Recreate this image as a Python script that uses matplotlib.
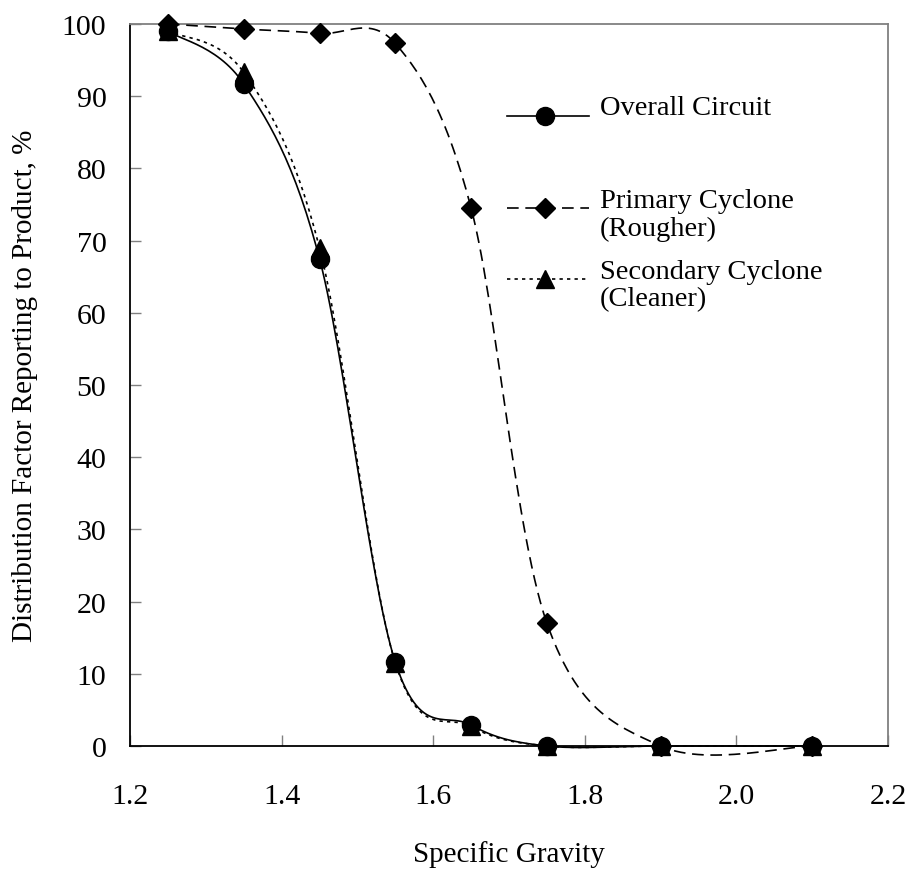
import matplotlib
matplotlib.use("Agg")
import matplotlib.pyplot as plt
import numpy as np

plt.rcParams['font.family'] = ['Liberation Serif', 'DejaVu Serif']

# specific gravity fractions
sg = [1.25, 1.35, 1.45, 1.55, 1.65, 1.75, 1.90, 2.10]
overall = [99.0, 91.7, 67.5, 11.6, 2.9, 0.0, 0.0, 0.0]
primary = [100.0, 99.3, 98.7, 97.3, 74.5, 17.0, 0.0, 0.0]
secondary = [99.0, 93.3, 69.0, 11.5, 2.7, 0.0, 0.0, 0.0]

x_ticks = [1.2, 1.4, 1.6, 1.8, 2.0, 2.2]
y_ticks = list(range(0, 101, 10))


def smooth(xs, ys, n=30):
    # cubic bezier through the points, spreadsheet style smoothing
    p = np.column_stack([xs, ys]).astype(float)
    out = [p[0]]
    t = np.linspace(0, 1, n)[1:, None]
    for i in range(len(p) - 1):
        p0 = p[i - 1] if i > 0 else p[i]
        p3 = p[i + 2] if i + 2 < len(p) else p[i + 1]
        c1 = p[i] + (p[i + 1] - p0) / 6.0
        c2 = p[i + 1] - (p3 - p[i]) / 6.0
        seg = ((1 - t) ** 3) * p[i] + 3 * ((1 - t) ** 2) * t * c1 \
            + 3 * (1 - t) * t ** 2 * c2 + t ** 3 * p[i + 1]
        out.extend(seg)
    out = np.array(out)
    return out[:, 0], out[:, 1]


fig = plt.figure(figsize=(9.11, 8.70), dpi=100)
ax = fig.add_axes([0.1427, 0.1414, 0.8321, 0.8299])

styles = [
    (overall, 'o', 13, '-', "Overall Circuit"),
    (primary, 'D', 10, (0, (7, 4)), "Primary Cyclone\n(Rougher)"),
    (secondary, '^', 13, (0, (2, 2.5)), "Secondary Cyclone\n(Cleaner)"),
]
for vals, mk, ms, ls, lab in styles:
    sx, sy = smooth(sg, vals)
    ax.plot(sx, sy, color='black', lw=1.2, linestyle=ls, clip_on=False, zorder=3)
    ax.plot(sg, vals, linestyle='none', marker=mk, ms=ms, color='black',
            clip_on=False, zorder=4)

ax.set_xlim(1.2, 2.2)
ax.set_ylim(0, 100)
ax.set_xticks(x_ticks)
ax.set_xticklabels(["%.1f" % v for v in x_ticks])
ax.set_yticks(y_ticks)

ax.tick_params(axis='both', direction='in', length=8, width=1, color='#808080',
               labelsize=21.5)
ax.tick_params(axis='y', pad=17)
ax.tick_params(axis='x', pad=27)
for side in ['left', 'bottom']:
    ax.spines[side].set_color('black')
    ax.spines[side].set_linewidth(1.3)
for side in ['top', 'right']:
    ax.spines[side].set_color('#808080')
    ax.spines[side].set_linewidth(1.3)

ax.set_xlabel("Specific Gravity", fontsize=21, labelpad=22)
ax.set_ylabel("Distribution Factor Reporting to Product, %", fontsize=21, labelpad=17)

# hand-placed legend
leg_rows = [(0.873, 'o', 13, '-', "Overall Circuit"),
            (0.745, 'D', 10, (0, (7, 4)), "Primary Cyclone\n(Rougher)"),
            (0.647, '^', 13, (0, (2, 2.5)), "Secondary Cyclone\n(Cleaner)")]
for yy, mk, ms, ls, lab in leg_rows:
    ax.plot([0.497, 0.606], [yy, yy], transform=ax.transAxes, color='black',
            lw=1.2, linestyle=ls, clip_on=False)
    ax.plot([0.548], [yy], transform=ax.transAxes, marker=mk, ms=ms,
            color='black', clip_on=False)
    ax.text(0.620, yy + 0.028, lab, transform=ax.transAxes, fontsize=20.5,
            va='top', ha='left', linespacing=1.15)

fig.savefig("out.png", dpi=100)
